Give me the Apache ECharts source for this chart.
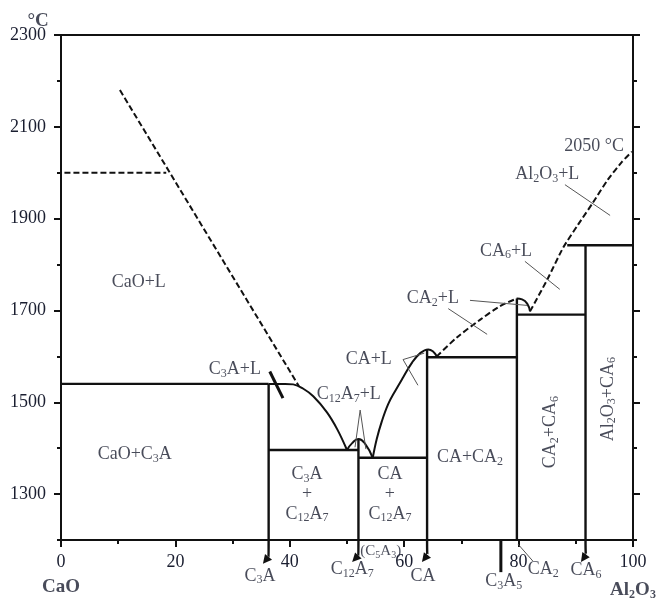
<!DOCTYPE html>
<html><head><meta charset="utf-8">
<script src="https://cdn.jsdelivr.net/npm/echarts@6/dist/echarts.min.js"></script>
<style>html,body{margin:0;padding:0;background:#fff}#c{width:659px;height:599px}</style>
</head><body><div id="c"></div>
<script>
// ---- axis ticks ----
const xLabelTicks = [0, 20, 40, 60, 80, 100];
const yLabelTicks = [1300, 1500, 1700, 1900, 2100, 2300];

// ---- phase boundaries: [wt% Al2O3, T °C] ----
const solidusCaOC3A   = [[0, 1540], [36.3, 1540]];
const lineC3A         = [[36.3, 1540], [36.3, 1200]];
const solidusC3AC12A7 = [[36.3, 1396], [52.0, 1396]];
const lineC12A7       = [[52.0, 1420], [52.0, 1200]];
const solidusCAC12A7  = [[52.0, 1379], [64.0, 1379]];
const lineCA          = [[64.0, 1615], [64.0, 1200]];
const solidusCACA2    = [[64.0, 1598], [79.7, 1598]];
const lineCA2         = [[79.7, 1726], [79.7, 1200]];
const solidusCA2CA6   = [[79.7, 1691], [91.7, 1691]];
const lineCA6         = [[91.7, 1842], [91.7, 1200]];
const solidusAlCA6    = [[88.5, 1842], [100, 1842]];
const lineC3A5        = [[76.9, 1200], [76.9, 1130]];

// liquidus (solid)
const liqC3A   = [[36.3, 1540], [39.2, 1540], [40.6, 1539], [42.3, 1530], [44.1, 1513], [46.5, 1478], [48.3, 1441], [50.0, 1396]];
const liqC12A7 = [[50.0, 1396], [50.9, 1411], [52.0, 1420], [53.2, 1409], [54.5, 1379]];
const liqCA    = [[54.5, 1379], [55.2, 1420], [56.1, 1459], [57.2, 1496], [58.4, 1524], [59.8, 1554], [61.4, 1587], [62.8, 1607], [64.2, 1615], [65.0, 1611], [65.7, 1600]];
const liqCA2   = [[79.7, 1726], [80.6, 1724], [81.5, 1715], [82.0, 1698]];
// liquidus (dashed)
const liqCaO     = [[10.3, 2180], [41.6, 1535]];
const isoCaO     = [[0.6, 2000], [18.4, 2000]];
const liqCAtoCA2 = [[65.7, 1600], [69.2, 1641], [73.3, 1680], [76.7, 1709], [79.7, 1726]];
const liqCA6Al   = [[82.0, 1698], [85.0, 1767], [87.8, 1837], [90.4, 1887], [93.0, 1935], [95.6, 1985], [98.1, 2024], [99.8, 2046]];

// pointer lines
const ptrC3AL   = [[36.5, 1567], [38.8, 1509]];
const ptrC12A7L = [[51.4, 1402], [52.3, 1483], [53.3, 1398]];
const ptrCAL    = [[63.5, 1607], [59.8, 1593], [62.4, 1537]];
const ptrCA2La  = [[71.5, 1722], [81.5, 1711]];
const ptrCA2Lb  = [[67.7, 1704], [74.5, 1648]];
const ptrCA6L   = [[81.1, 1807], [87.2, 1746]];
const ptrAlL    = [[88.1, 1974], [96.0, 1907]];
const ptrCA2    = [[79.9, 1191], [82.5, 1154]];

// arrows below axis: [x0, T0, xTip, TTip]
const arrows = [[36.3, 1200, 35.3, 1148], [52.0, 1200, 50.9, 1152], [64.0, 1200, 63.1, 1152], [91.7, 1200, 90.9, 1152]];

// labels [text, x, T]
const regionLabels = [
  ['CaO+L', 13.6, 1761], ['CaO+C3A', 12.9, 1387], ['C3A+L', 30.4, 1572], ['C12A7+L', 50.3, 1517],
  ['CA+L', 53.8, 1593], ['CA2+L', 65.0, 1726], ['CA6+L', 77.8, 1830], ['Al2O3+L', 85.0, 1996],
  ['C3A', 43.0, 1343], ['+', 43.0, 1300], ['C12A7', 43.0, 1257],
  ['CA', 57.5, 1343], ['+', 57.5, 1300], ['C12A7', 57.5, 1257],
  ['CA+CA2', 71.5, 1380]
];
const rotatedLabels = [['CA2+CA6', 85.5, 1435], ['Al2O3+CA6', 95.6, 1507]];
const compoundLabels = [['C3A', 34.8, 1122], ['C12A7', 50.9, 1137], ['CA', 63.3, 1122], ['C3A5', 77.4, 1111], ['CA2', 84.3, 1137], ['CA6', 91.8, 1133]];
const smallLabels = [['(C5A3)', 55.9, 1176]];
const noteLabels = [['2050 °C', 93.2, 2057]];
const boldLabels = [['CaO', 0, 1098], ['Al2O3', 100, 1091], ['°C', -4.0, 2330]];

const TXT = '#1a1e30';
const LN = '#111';
const FONT = 'Liberation Serif';

function rich(s, b) {
  const n = b ? 'b' : 'n', sub = b ? 'bs' : 's';
  return s.split(/(\d+)/).filter(t => t.length).map(t => /^\d+$/.test(t) ? '{' + sub + '|' + t + '}' : '{' + n + '|' + t + '}').join('');
}
const richStyles = {
  n:  { fontSize: 18, lineHeight: 21, fontFamily: FONT, color: TXT },
  s:  { fontSize: 12, lineHeight: 12, verticalAlign: 'bottom', fontFamily: FONT, color: TXT },
  b:  { fontSize: 19, lineHeight: 22, fontFamily: FONT, color: TXT, fontWeight: 'bold' },
  bs: { fontSize: 12, lineHeight: 12, verticalAlign: 'bottom', fontFamily: FONT, color: TXT, fontWeight: 'bold' },
  m:  { fontSize: 15, lineHeight: 18, fontFamily: FONT, color: TXT },
  ms: { fontSize: 10, lineHeight: 10, verticalAlign: 'bottom', fontFamily: FONT, color: TXT }
};

function lineS(data, opt) {
  return Object.assign({ type: 'line', data: data, symbol: 'none', silent: true, clip: false, animation: false,
    lineStyle: { color: LN, width: 2.4 } }, opt || {});
}
function textS(arr, fmt, extra) {
  return {
    type: 'scatter', silent: true, clip: false, symbolSize: 1, itemStyle: { color: 'rgba(0,0,0,0)' },
    data: arr.map(a => ({ value: [a[1], a[2]], name: a[0] })),
    label: Object.assign({ show: true, position: 'inside', align: 'center', verticalAlign: 'middle',
      formatter: p => fmt(p.name), rich: richStyles, fontFamily: FONT, fontSize: 18, color: TXT }, extra || {})
  };
}

const chart = echarts.init(document.getElementById('c'), null, { renderer: 'canvas' });
const axisCommon = { axisLine: { show: true, lineStyle: { color: LN, width: 2 } }, splitLine: { show: false } };
const yBase = { type: 'value', min: 1200, max: 2300, interval: 100 };

chart.setOption({
  animation: false,
  grid: { left: 61, right: 26, top: 35, bottom: 59, show: true, borderColor: LN, borderWidth: 2 },
  xAxis: [Object.assign({
    type: 'value', min: 0, max: 100, interval: 20, position: 'bottom',
    axisTick: { show: true, length: 7, lineStyle: { color: LN, width: 2 } },
    minorTick: { show: true, splitNumber: 2, length: 4, lineStyle: { color: LN, width: 2 } },
    axisLabel: { margin: 13, fontFamily: FONT, fontSize: 18, color: TXT, formatter: v => String(v) }
  }, axisCommon)],
  yAxis: [
    Object.assign({}, yBase, axisCommon, { position: 'left',
      axisTick: { show: true, length: 7, customValues: yLabelTicks, lineStyle: { color: LN, width: 2 } },
      axisLabel: { show: true, customValues: yLabelTicks, margin: 15, fontFamily: FONT, fontSize: 18, color: TXT, formatter: v => String(v) } }),
    Object.assign({}, yBase, axisCommon, { position: 'left',
      axisTick: { show: true, length: 4, lineStyle: { color: LN, width: 2 } }, axisLabel: { show: false } }),
    Object.assign({}, yBase, axisCommon, { position: 'right',
      axisTick: { show: true, length: 7, customValues: yLabelTicks, lineStyle: { color: LN, width: 2 } }, axisLabel: { show: false } }),
    Object.assign({}, yBase, axisCommon, { position: 'right',
      axisTick: { show: true, length: 4, lineStyle: { color: LN, width: 2 } }, axisLabel: { show: false } })
  ],
  series: [
    lineS(solidusCaOC3A), lineS(lineC3A), lineS(solidusC3AC12A7), lineS(lineC12A7),
    lineS(solidusCAC12A7), lineS(lineCA), lineS(solidusCACA2), lineS(lineCA2),
    lineS(solidusCA2CA6), lineS(lineCA6), lineS(solidusAlCA6), lineS(lineC3A5, { lineStyle: { color: LN, width: 3 } }),
    lineS(liqC3A, { smooth: 0.4, lineStyle: { color: LN, width: 2 } }),
    lineS(liqC12A7, { smooth: 0.5, lineStyle: { color: LN, width: 2 } }),
    lineS(liqCA, { smooth: 0.4, lineStyle: { color: LN, width: 2 } }),
    lineS(liqCA2, { smooth: 0.5, lineStyle: { color: LN, width: 2 } }),
    lineS(liqCaO, { lineStyle: { color: LN, width: 2, type: [6, 3] } }),
    lineS(isoCaO, { lineStyle: { color: LN, width: 2, type: [6, 3] } }),
    lineS(liqCAtoCA2, { smooth: 0.3, lineStyle: { color: LN, width: 2, type: [6, 3] } }),
    lineS(liqCA6Al, { smooth: 0.2, lineStyle: { color: LN, width: 2, type: [6, 3] } }),
    lineS(ptrC3AL, { lineStyle: { color: LN, width: 3 } }),
    lineS(ptrC12A7L, { lineStyle: { color: '#555', width: 1 } }),
    lineS(ptrCAL, { lineStyle: { color: '#555', width: 1 } }),
    lineS(ptrCA2La, { lineStyle: { color: '#555', width: 1 } }),
    lineS(ptrCA2Lb, { lineStyle: { color: '#555', width: 1 } }),
    lineS(ptrCA6L, { lineStyle: { color: '#555', width: 1 } }),
    lineS(ptrAlL, { lineStyle: { color: '#555', width: 1 } }),
    lineS(ptrCA2, { lineStyle: { color: '#555', width: 1 } }),
    {
      type: 'custom', silent: true, clip: false, data: arrows,
      encode: { x: [0, 2], y: [1, 3] },
      renderItem: function (params, api) {
        const p0 = api.coord([api.value(0), api.value(1)]);
        const p1 = api.coord([api.value(2), api.value(3)]);
        const c = [p0[0], p0[1] + (p1[1] - p0[1]) * 0.7];
        const dx = p1[0] - c[0], dy = p1[1] - c[1], L = Math.hypot(dx, dy);
        const ux = dx / L, uy = dy / L, hl = 9, hw = 4.5;
        const base = [p1[0] - ux * hl, p1[1] - uy * hl];
        const left = [base[0] - uy * hw, base[1] + ux * hw], right = [base[0] + uy * hw, base[1] - ux * hw];
        return { type: 'group', children: [
          { type: 'bezierCurve', shape: { x1: p0[0], y1: p0[1], x2: base[0], y2: base[1], cpx1: c[0], cpy1: c[1] },
            style: { stroke: LN, lineWidth: 2.4, fill: null } },
          { type: 'polygon', shape: { points: [p1, left, right] }, style: { fill: LN } }
        ] };
      }
    },
    textS(regionLabels, s => rich(s, false)),
    textS(rotatedLabels, s => rich(s, false), { rotate: 90 }),
    textS(compoundLabels, s => rich(s, false)),
    textS(smallLabels, s => s.split(/(\d+)/).filter(t => t.length).map(t => /^\d+$/.test(t) ? '{ms|' + t + '}' : '{m|' + t + '}').join('')),
    textS(noteLabels, s => s),
    textS(boldLabels, s => rich(s, true))
  ]
});
</script></body></html>
